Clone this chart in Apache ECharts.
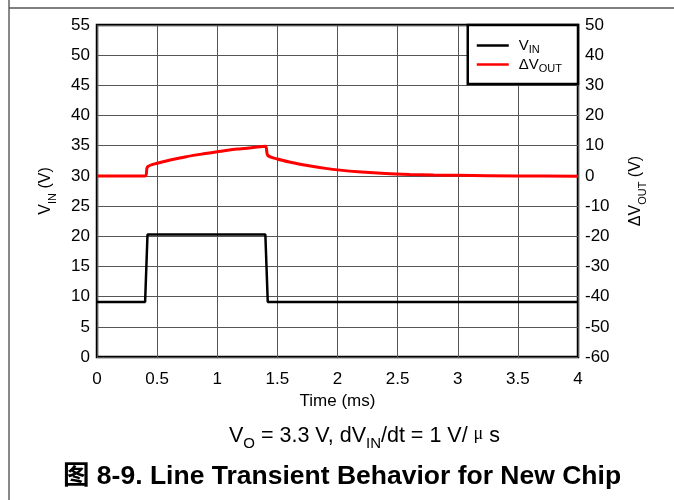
<!DOCTYPE html>
<html>
<head>
<meta charset="utf-8">
<script src="https://cdn.jsdelivr.net/npm/echarts@6/dist/echarts.min.js"></script>
<style>
  html, body { margin: 0; padding: 0; background: #fff; }
  #chart { width: 674px; height: 500px; }
</style>
</head>
<body>
<div id="chart"></div>
<script>
  // time in ms
  var vinTime = [0, 0.40, 0.42, 1.40, 1.42, 4.0];
  var vinValue = [9.1, 9.1, 20.3, 20.3, 9.1, 9.1];

  var dvTime = [0, 0.40, 0.42, 0.5, 0.6, 0.7, 0.8, 0.9, 1.0, 1.1, 1.2, 1.3, 1.40, 1.42, 1.5, 1.6, 1.7, 1.8, 1.9, 2.0, 2.2, 2.4, 2.6, 2.8, 3.0, 3.5, 4.0];
  var dvValue = [0, 0, 3.0, 4.2, 5.2, 6.0, 6.8, 7.4, 8.0, 8.6, 9.0, 9.4, 9.8, 6.8, 5.6, 4.6, 3.8, 3.1, 2.5, 2.0, 1.3, 0.8, 0.5, 0.3, 0.2, 0.0, -0.1];

  var FONT = '"Liberation Sans", Arial, sans-serif';

  var chart = echarts.init(document.getElementById('chart'));

  function pairs(xs, ys) {
    return xs.map(function (x, i) { return [x, ys[i]]; });
  }

  // main text + lowered subscript
  function subRich(size, subSize, key, padM, padS) {
    var r = {
      m: { fontFamily: FONT, fontSize: size, verticalAlign: 'top', lineHeight: size + 4, padding: [padM || 0, 0, 0, 0] },
      s: { fontFamily: FONT, fontSize: subSize, verticalAlign: 'bottom', lineHeight: subSize, padding: [padS || 0, 0, 0, 0] }
    };
    r.m[key] = '#000';
    r.s[key] = '#000';
    return r;
  }

  var option = {
    animation: false,
    backgroundColor: '#fff',
    grid: {
      left: 97, right: 96, top: 25, bottom: 143,
      show: true, borderColor: '#000', borderWidth: 2.5, backgroundColor: 'transparent'
    },
    legend: {
      right: 96, top: 25,
      orient: 'vertical',
      backgroundColor: '#fff',
      borderColor: '#000',
      borderWidth: 2.5,
      borderRadius: 0,
      padding: [11, 16, 10, 9],
      itemGap: 0,
      itemWidth: 32,
      itemHeight: 2.5,
      icon: 'rect',
      data: ['VIN', 'dVOUT'],
      formatter: function (name) {
        return name === 'VIN' ? '{g|}{m|V}{s|IN}' : '{g|}{m|\u0394V}{s|OUT}';
      },
      textStyle: {
        color: '#000', fontFamily: FONT,
        rich: Object.assign({ g: { width: 5 } }, subRich(15, 11, 'color', 2, 3))
      }
    },
    xAxis: {
      type: 'value', min: 0, max: 4, interval: 0.5,
      name: 'Time (ms)', nameLocation: 'middle', nameGap: 32,
      nameTextStyle: { fontFamily: FONT, fontSize: 17, color: '#000' },
      axisLine: { show: false }, axisTick: { show: false },
      axisLabel: { fontFamily: FONT, fontSize: 17, color: '#000', margin: 14 },
      splitLine: { lineStyle: { color: '#555', width: 1 } }
    },
    yAxis: [
      {
        type: 'value', min: 0, max: 55, interval: 5,
        name: '{m|V}{s|IN}{m| (V)}', nameLocation: 'middle', nameGap: 39, nameRotate: 90,
        nameTextStyle: { rich: subRich(16, 11, 'color') },
        axisLine: { show: false }, axisTick: { show: false },
        axisLabel: { fontFamily: FONT, fontSize: 17, color: '#000', margin: 7 },
        splitLine: { lineStyle: { color: '#555', width: 1 } }
      },
      {
        type: 'value', min: -60, max: 50, interval: 10,
        name: '{m|\u0394V}{s|OUT}{m| (V)}', nameLocation: 'middle', nameGap: 50, nameRotate: 90,
        nameTextStyle: { rich: subRich(16, 11, 'color') },
        axisLine: { show: false }, axisTick: { show: false },
        axisLabel: { fontFamily: FONT, fontSize: 17, color: '#000', margin: 7 },
        splitLine: { show: false }
      }
    ],
    series: [
      {
        name: 'dVOUT', type: 'line', yAxisIndex: 1, smooth: 0.3, showSymbol: false,
        color: '#ff0000', lineStyle: { color: '#ff0000', width: 3 },
        data: pairs(dvTime, dvValue), z: 3
      },
      {
        name: 'VIN', type: 'line', yAxisIndex: 0, showSymbol: false,
        color: '#000', lineStyle: { color: '#000', width: 2.5 },
        data: pairs(vinTime, vinValue), z: 4
      }
    ],
    graphic: [
      { type: 'line', shape: { x1: 9, y1: 0, x2: 9, y2: 500 }, style: { stroke: '#888', lineWidth: 2 } },
      { type: 'line', shape: { x1: 9, y1: 8, x2: 674, y2: 8 }, style: { stroke: '#555', lineWidth: 1.5 } },
      {
        type: 'text', left: 229, top: 425,
        style: {
          text: '{m|V}{s|O}{m| = 3.3 V, dV}{s|IN}{m|/dt = 1 V/ }{u|\u03bc}{m| s}',
          rich: {
            m: { fontFamily: FONT, fontSize: 21.5, fill: '#000', verticalAlign: 'top', lineHeight: 24 },
            s: { fontFamily: FONT, fontSize: 15, fill: '#000', verticalAlign: 'bottom', lineHeight: 15 },
            u: { fontFamily: '"Liberation Serif", serif', fontSize: 18, fill: '#000', verticalAlign: 'top', lineHeight: 26 }
          }
        }
      },
      {
        type: 'text', left: 63, top: 463,
        style: {
          text: '\u56fe 8-9. Line Transient Behavior for New Chip',
          fontFamily: '"Liberation Sans", "Noto Sans CJK SC", sans-serif',
          fontSize: 26.5, fontWeight: 'bold', fill: '#000'
        }
      }
    ]
  };

  chart.setOption(option);
</script>
</body>
</html>
